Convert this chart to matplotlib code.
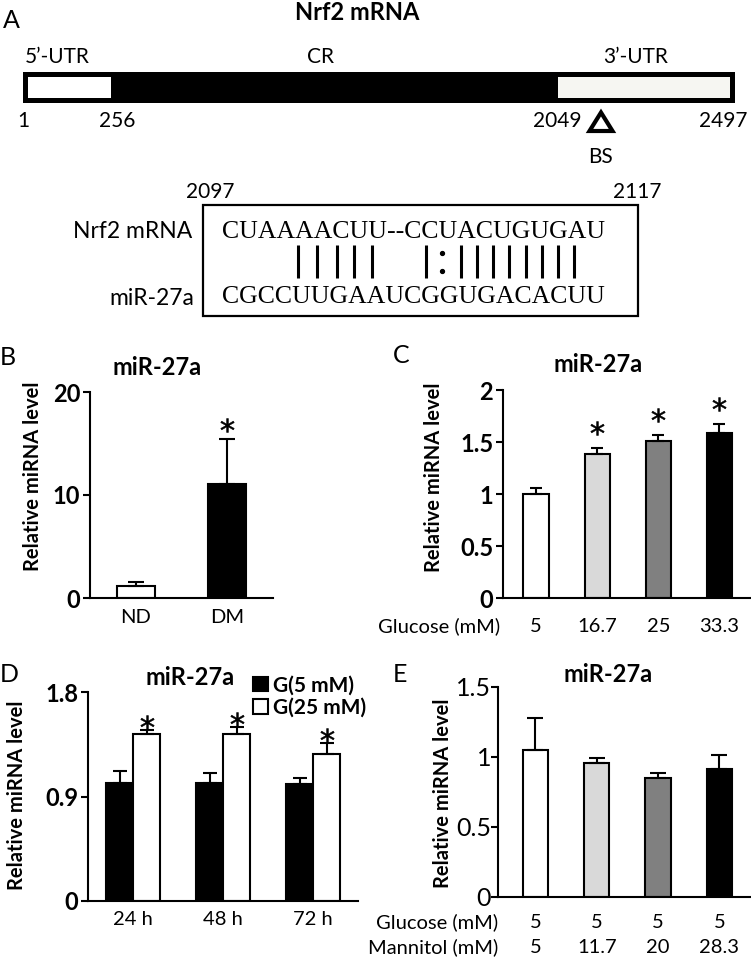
import numpy as np
import matplotlib
matplotlib.use("Agg")
import matplotlib.pyplot as plt
from matplotlib.patches import Rectangle, Polygon
from matplotlib.transforms import offset_copy

plt.rcParams['font.family'] = ['Lato', 'DejaVu Sans']

# ---- data ----
b_groups = ['ND', 'DM']
b_mean = [1.15, 11.1]
b_err = [0.4, 4.3]
b_sig = [False, True]

c_glucose = ['5', '16.7', '25', '33.3']
c_mean = [1.0, 1.385, 1.51, 1.585]
c_err = [0.06, 0.06, 0.06, 0.09]
c_sig = [False, True, True, True]

d_times = ['24 h', '48 h', '72 h']
d_g5_mean = [1.02, 1.015, 1.01]
d_g5_err = [0.10, 0.09, 0.05]
d_g25_mean = [1.44, 1.44, 1.27]
d_g25_err = [0.03, 0.06, 0.09]
d_sig = [True, True, True]

e_glucose = ['5', '5', '5', '5']
e_mannitol = ['5', '11.7', '20', '28.3']
e_mean = [1.05, 0.955, 0.848, 0.917]
e_err = [0.226, 0.04, 0.04, 0.10]

mrna_seq = 'CUAAAACUU--CCUACUGUGAU'
mir_seq = 'CGCCUUGAAUCGGUGACACUU'

grays = ['white', '#d9d9d9', '#808080', 'black']

W, H = 751, 961
fig = plt.figure(figsize=(W / 100, H / 100), dpi=100)

# overlay in pixel coordinates for the schematic and panel labels
ov = fig.add_axes([0, 0, 1, 1])
ov.set_xlim(0, W)
ov.set_ylim(H, 0)
ov.axis('off')

def px_axes(x0, ytop, x1, ybot):
    return fig.add_axes([x0 / W, 1 - ybot / H, (x1 - x0) / W, (ybot - ytop) / H])

PX = 1 / 1.389  # pixels -> points

# ---- panel A ----
ov.text(3, 28, 'A', fontsize=18, va='baseline')
ov.text(357, 20, 'Nrf2 mRNA', fontsize=17, fontweight='bold', ha='center', va='baseline')
ov.text(25, 63, '5\u2019-UTR', fontsize=15, va='baseline')
ov.text(321, 63, 'CR', fontsize=15, ha='center', va='baseline')
ov.text(636, 63, '3\u2019-UTR', fontsize=15, ha='center', va='baseline')

ov.add_patch(Rectangle((23, 72), 712, 31, color='black', lw=0))
ov.add_patch(Rectangle((28, 77), 83, 21, color='white', lw=0))
ov.add_patch(Rectangle((558, 77), 172, 21, color='#f6f6f2', lw=0))

for lbl, x, ha in [('1', 23, 'center'), ('256', 117, 'center'),
                   ('2049', 582, 'right'), ('2497', 748, 'right')]:
    ov.text(x, 127, lbl, fontsize=15, ha=ha, va='baseline')
ov.add_patch(Polygon([(589.5, 131), (612.5, 131), (601, 112.5)], closed=True,
                     fill=False, lw=3, edgecolor='black', joinstyle='miter'))
ov.text(601, 163, 'BS', fontsize=15, ha='center', va='baseline')

ov.text(210, 198, '2097', fontsize=15, ha='center', va='baseline')
ov.text(637, 198, '2117', fontsize=15, ha='center', va='baseline')
ov.add_patch(Rectangle((203, 205), 435, 111, fill=False, lw=1.6, edgecolor='black'))
ov.text(192, 238, 'Nrf2 mRNA', fontsize=16.5, ha='right', va='baseline')
ov.text(194, 305, 'miR-27a', fontsize=16.5, ha='right', va='baseline')
ov.text(222, 238, mrna_seq, fontsize=18.5, family='Liberation Serif', va='baseline')
ov.text(222, 303, mir_seq, fontsize=18.5, family='Liberation Serif', va='baseline')

pair_x = [298, 317, 337, 354, 372, 426, 461, 477, 493, 509, 526, 542, 558, 574]
for x in pair_x:
    ov.plot([x, x], [245, 278], color='black', lw=2.2, solid_capstyle='butt')
ov.plot([442, 442], [253, 271], 'o', color='black', ms=2.8)

# ---- helpers ----
def style_axes(ax, ylim, yticks, yticklabels, bold=True, tsize=17):
    ax.set_ylim(*ylim)
    ax.set_yticks(yticks)
    ax.set_yticklabels(yticklabels, fontsize=tsize,
                       fontweight='bold' if bold else 'normal')
    ax.set_xticks([])
    for s in ['top', 'right']:
        ax.spines[s].set_visible(False)
    for s in ['left', 'bottom']:
        ax.spines[s].set_linewidth(1.5)
    ax.tick_params(axis='y', length=5, width=1.5, pad=2)
    ax.patch.set_alpha(0)

def stars(ax, x, y, off_px):
    tr = offset_copy(ax.transData, fig=fig, y=off_px, units='dots')
    ax.plot(x, y, linestyle='none', marker='$*$', ms=10, mew=0.4,
            color='black', transform=tr, clip_on=False)

def row(ax, x, labels, dy_px, header=None, hx_px=-3):
    for xi, lbl in zip(x, labels):
        ax.annotate(lbl, xy=(xi, 0), xycoords=('data', 'axes fraction'),
                    xytext=(0, -dy_px * PX), textcoords='offset points',
                    ha='center', va='baseline', fontsize=14.5)
    if header:
        ax.annotate(header, xy=(0, 0), xycoords='axes fraction',
                    xytext=(hx_px * PX, -dy_px * PX), textcoords='offset points',
                    ha='right', va='baseline', fontsize=14.5)

def ylabel(x, y):
    ov.text(x, y, 'Relative miRNA level', fontsize=14.5, fontweight='bold',
            rotation=90, ha='center', va='center')

def sig_points(x, mean, err, sig):
    idx = [i for i, s in enumerate(sig) if s]
    return [x[i] for i in idx], [mean[i] + err[i] for i in idx]

# ---- panel B ----
ov.text(0, 365, 'B', fontsize=18, va='baseline')
ov.text(157, 375, 'miR-27a', fontsize=17, fontweight='bold', ha='center', va='baseline')
ylabel(33, 476)
axB = px_axes(90, 392, 273, 598)
xb = np.arange(len(b_groups))
axB.bar(xb, b_mean, width=0.41, color=['white', 'black'], edgecolor='black', lw=1.5)
axB.errorbar(xb, b_mean, yerr=[np.zeros(len(xb)), b_err], fmt='none',
             ecolor='black', elinewidth=1.5, capsize=6, capthick=1.5)
axB.set_xlim(-0.5, 1.5)
style_axes(axB, (0, 20), [0, 10, 20], ['0', '10', '20'])
stars(axB, *sig_points(xb, b_mean, b_err, b_sig), 14)
row(axB, xb, b_groups, 25)

# ---- panel C ----
ov.text(393, 363, 'C', fontsize=18, va='baseline')
ov.text(598, 372, 'miR-27a', fontsize=17, fontweight='bold', ha='center', va='baseline')
ylabel(434, 477)
axC = px_axes(503, 390, 750, 598)
xc = np.arange(len(c_glucose))
axC.bar(xc, c_mean, width=0.41, color=grays, edgecolor='black', lw=1.5)
axC.errorbar(xc, c_mean, yerr=[np.zeros(len(xc)), c_err], fmt='none',
             ecolor='black', elinewidth=1.5, capsize=4, capthick=1.5)
axC.set_xlim(-0.54, 3.5)
style_axes(axC, (0, 2), [0, 0.5, 1, 1.5, 2], ['0', '0.5', '1', '1.5', '2'])
stars(axC, *sig_points(xc, c_mean, c_err, c_sig), 20)
row(axC, xc, c_glucose, 34, header='Glucose (mM)')

# ---- panel D ----
ov.text(0, 682, 'D', fontsize=18, va='baseline')
ov.text(190, 685, 'miR-27a', fontsize=17, fontweight='bold', ha='center', va='baseline')
ylabel(17, 795)
axD = px_axes(88, 692, 358, 901)
xd = np.arange(len(d_times))
bw = 0.3
b5 = axD.bar(xd - bw / 2, d_g5_mean, width=bw, color='black', edgecolor='black',
             lw=1.5, label='G(5 mM)')
b25 = axD.bar(xd + bw / 2, d_g25_mean, width=bw, color='white', edgecolor='black',
              lw=1.5, label='G(25 mM)')
axD.errorbar(xd - bw / 2, d_g5_mean, yerr=[np.zeros(3), d_g5_err], fmt='none',
             ecolor='black', elinewidth=1.5, capsize=5, capthick=1.5)
axD.errorbar(xd + bw / 2, d_g25_mean, yerr=[np.zeros(3), d_g25_err], fmt='none',
             ecolor='black', elinewidth=1.5, capsize=5, capthick=1.5)
axD.set_xlim(-0.5, 2.5)
style_axes(axD, (0, 1.8), [0, 0.9, 1.8], ['0', '0.9', '1.8'])
stars(axD, *sig_points(xd + bw / 2, d_g25_mean, d_g25_err, d_sig), 8)
row(axD, xd, d_times, 24)
axD.legend(handles=[b5, b25], loc='upper left', bbox_to_anchor=(243 / W, 1 - 665 / H),
           bbox_transform=fig.transFigure, frameon=False, borderpad=0,
           handlelength=0.7, handleheight=0.7, handletextpad=0.25, labelspacing=0.1,
           prop={'weight': 'bold', 'size': 15})

# ---- panel E ----
ov.text(393, 682, 'E', fontsize=18, va='baseline')
ov.text(608, 682, 'miR-27a', fontsize=17, fontweight='bold', ha='center', va='baseline')
ylabel(443, 793)
axE = px_axes(498, 687, 750, 897)
xe = np.arange(len(e_mean))
axE.bar(xe, e_mean, width=0.41, color=grays, edgecolor='black', lw=1.5)
axE.errorbar(xe, e_mean, yerr=[np.zeros(len(xe)), e_err], fmt='none',
             ecolor='black', elinewidth=1.5, capsize=5.5, capthick=1.5)
axE.set_xlim(-0.61, 3.5)
style_axes(axE, (0, 1.5), [0, 0.5, 1, 1.5], ['0', '0.5', '1', '1.5'], bold=False, tsize=18)
axE.tick_params(axis='y', pad=0)
row(axE, xe, e_glucose, 31, header='Glucose (mM)', hx_px=0)
row(axE, xe, e_mannitol, 56, header='Mannitol (mM)', hx_px=0)

fig.savefig('out.png', dpi=100)
